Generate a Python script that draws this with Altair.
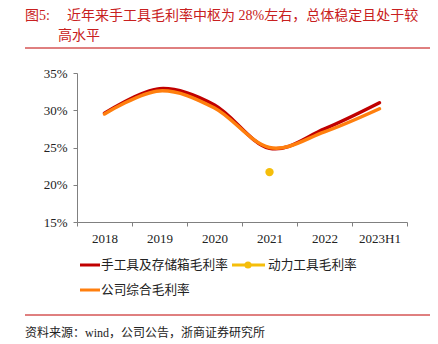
import altair as alt
import pandas as pd

years = ["2018", "2019", "2020", "2021", "2022", "2023H1"]
hand_tools = [29.6, 32.9, 30.7, 24.9, 27.5, 31.0]
company = [29.5, 32.6, 30.3, 25.0, 27.1, 30.2]
power_years = ["2021"]
power_tools = [21.7]

s1 = "手工具及存储箱毛利率"
s2 = "动力工具毛利率"
s3 = "公司综合毛利率"

c_red = "#C00000"
c_yel = "#F5BE0B"
c_org = "#FF7F0E"

df_line = pd.DataFrame({
    "year": years * 2,
    "value": hand_tools + company,
    "series": [s1] * len(years) + [s3] * len(years),
    "order": [0] * len(years) + [1] * len(years),
})
df_pt = pd.DataFrame({"year": power_years, "value": power_tools})

xenc = alt.X("year:N", sort=years, bandPosition=0.5,
             scale=alt.Scale(domain=years, paddingInner=0, paddingOuter=0),
             axis=alt.Axis(title=None, labelAngle=0, tickBand="extent", tickSize=4,
                           labelPadding=6, labelFont="Liberation Serif", labelFontSize=13,
                           labelColor="#222", domainColor="#808080", tickColor="#808080"))
yenc = alt.Y("value:Q", scale=alt.Scale(domain=[15, 35], nice=False, zero=False),
             axis=alt.Axis(title=None, values=[15, 20, 25, 30, 35], labelExpr="datum.value + '%'",
                           tickSize=4, labelPadding=6, labelFont="Liberation Serif", labelFontSize=13,
                           labelColor="#222", domainColor="#808080", tickColor="#808080", grid=False))

lines = alt.Chart(df_line).mark_line(interpolate="cardinal", strokeWidth=3.5, strokeCap="round").encode(
    x=xenc, y=yenc,
    color=alt.Color("series:N", scale=alt.Scale(domain=[s1, s3], range=[c_red, c_org]), legend=None),
    order="order:Q",
    detail="series:N",
)
dots = alt.Chart(df_pt).mark_circle(size=70, opacity=1, color=c_yel).encode(x=xenc, y=yenc)

cjk = "Noto Sans CJK SC"
tcol = "#C82020"

def txt(s, x, y, size=13, color="#222", font=cjk, align="left"):
    return alt.Chart(pd.DataFrame({"t": [s]})).mark_text(
        align=align, baseline="middle", fontSize=size, color=color, font=font).encode(
        text="t:N", x=alt.value(x), y=alt.value(y))

def rule(x1, x2, y, color, w=1):
    return alt.Chart(pd.DataFrame({"a": [0]})).mark_rule(color=color, strokeWidth=w).encode(
        x=alt.value(x1), x2=alt.value(x2), y=alt.value(y))

deco = [
    txt("图5:", -52, -57, 14, tcol, "Liberation Serif, Noto Sans CJK SC"),
    txt("近年来手工具毛利率中枢为 28%左右，总体稳定且处于较", -10, -57, 14, tcol, "Liberation Serif, Noto Sans CJK SC"),
    txt("高水平", -19, -37, 14, tcol),
    rule(-52, 353, -25, c_red, 1),
    rule(3, 23, 192, c_red, 3),
    txt(s1, 24, 192, 12.7),
    rule(155, 188, 192, c_yel, 3),
    alt.Chart(pd.DataFrame({"a": [0]})).mark_circle(size=50, opacity=1, color=c_yel).encode(
        x=alt.value(171), y=alt.value(192)),
    txt(s2, 191, 192, 12.7),
    rule(3, 23, 217, c_org, 3),
    txt(s3, 24, 217, 12.7),
    rule(-52, 353, 242, c_red, 1),
    txt("资料来源：wind，公司公告，浙商证券研究所", -52, 260, 12, "#222", "Liberation Serif, Noto Sans CJK SC"),
]

chart = alt.layer(lines, dots, *deco).properties(
    width=330, height=149,
    autosize=alt.AutoSizeParams(type="none"),
    padding={"left": 77, "top": 73, "right": 31, "bottom": 122},
    background="white",
).configure_view(stroke=None)

chart.save("out.html", embed_options={"renderer": "svg", "actions": False})
